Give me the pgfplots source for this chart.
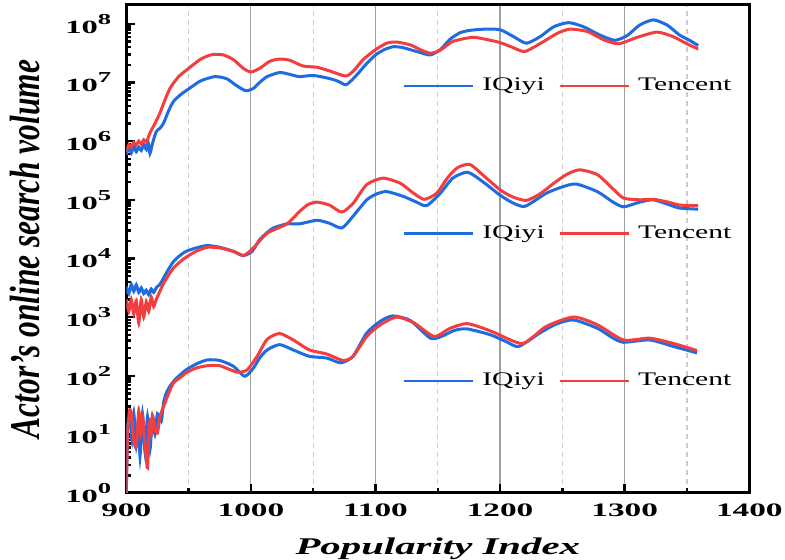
\documentclass[border=0pt]{standalone}
\usepackage{fontspec}
\setmainfont{Liberation Serif}
\newfontfamily\tickfont{Liberation Serif}[FakeStretch=1.75]
\newfontfamily\labfont{Liberation Serif}[FakeStretch=1.7]
\newfontfamily\legfont{Liberation Serif}[FakeStretch=1.54]
\usepackage{graphicx}
\usepackage{pgfplots}
\pgfplotsset{compat=1.18}
\definecolor{qyblue}{RGB}{31,108,224}
\definecolor{txred}{RGB}{242,62,62}

\begin{document}
\begin{tikzpicture}
\useasboundingbox (-63.15pt,-33.35pt) rectangle (329.35pt,246.5pt);

% top group
\begin{axis}[
  width=311.5pt, height=244pt, scale only axis,
  at={(0,0)}, anchor=south west,
  xmin=900, xmax=1400, ymode=log, log basis y=10, ymin=1, ymax=2.1e8,
  xtick={900,1000,...,1400}, minor x tick num=1,
  xmajorgrids, xminorgrids,
  major grid style={gray!75, line width=0.6pt},
  minor grid style={gray!40, line width=0.6pt, dash pattern=on 2.5pt off 2pt},
  tick align=inside, tick pos=left,
  major tick length=4.5pt, minor tick length=2.5pt,
  tick style={black, line width=1.2pt},
  axis line style={line width=1.5pt},
  xticklabel style={font=\fontsize{9.5}{10}\tickfont\bfseries, yshift=-2pt},
  yticklabel style={font=\fontsize{9.3}{10}\tickfont\bfseries, xshift=-4pt},
  xticklabel={\pgfmathprintnumber[assume math mode=true,1000 sep={}]{\tick}},
  yticklabel={10\raisebox{4.6pt}{\fontsize{7.6}{8}\selectfont\pgfmathparse{int(round(\tick))}\pgfmathresult}},
  xlabel={Popularity Index},
  xlabel style={font=\fontsize{12}{14}\labfont\bfseries\itshape, at={(rel axis cs:0.5,-0.126)}, anchor=base},
  ylabel={\scalebox{1}[1.35]{Actor's online search volume}},
  ylabel style={font=\fontsize{15.7}{18}\selectfont\bfseries\itshape, at={(rel axis cs:-0.127,0.5)}, anchor=south},
  legend columns=2,
  legend image code/.code={\draw[#1,line width=1.2pt] (0pt,0pt) -- (34.5pt,0pt);},
  legend style={draw=none, fill=none, inner sep=0pt, outer sep=0pt, anchor=west,
    column sep=0pt, at={(rel axis cs:0.444,0.834)},
    nodes={inner sep=0pt, font=\fontsize{9.6}{11}\legfont},
    /tikz/every odd column/.append style={column sep=4pt},
    /tikz/every even column/.append style={column sep=7pt}},
]
\addplot[draw=qyblue, line width=1.5pt, smooth, tension=0.4] coordinates {
(900,5.89e5) (902,7.94e5) (904,6.31e5) (906,8.32e5) (908,6.61e5) (910,7.94e5)
(912,6.92e5) (914,8.71e5) (916,7.24e5) (917.5,9.55e5) (919,6.17e5) (921,9.12e5)
(924,1.45e6) (927,1.66e6) (930,2.04e6) (934,3.31e6) (938,4.79e6) (944,6.31e6)
(950,7.76e6) (959,1.05e7) (965,1.17e7) (971,1.26e7) (976,1.23e7) (981,1.15e7)
(989,8.71e6) (996,7.24e6) (1002,7.94e6) (1007,1.0e7) (1013,1.26e7) (1023,1.48e7)
(1031,1.38e7) (1039,1.26e7) (1050,1.32e7) (1063,1.17e7) (1070,1.05e7) (1076,9.12e6)
(1080,1.05e7) (1085,1.35e7) (1092,2.0e7) (1100,2.95e7) (1107,3.63e7) (1114,4.07e7)
(1121,3.98e7) (1128,3.63e7) (1136,3.24e7) (1144,2.95e7) (1152,3.63e7) (1160,5.50e7)
(1168,7.08e7) (1176,7.76e7) (1188,8.13e7) (1200,7.94e7) (1211,6.03e7) (1221,4.68e7)
(1232,6.03e7) (1243,8.91e7) (1255,1.05e8) (1267,8.91e7) (1280,6.46e7) (1292,5.25e7)
(1302,6.31e7) (1312,9.55e7) (1323,1.17e8) (1334,9.55e7) (1344,6.46e7) (1352,5.25e7)
(1359,4.27e7)
};
\addlegendentry{IQiyi}
\addplot[draw=txred, line width=1.5pt, smooth, tension=0.4] coordinates {
(900,6.61e5) (902,8.71e5) (904,7.94e5) (906,9.55e5) (908,8.71e5) (910,1.0e6)
(912,8.91e5) (914,1.05e6) (916,9.55e5) (919,1.38e6) (923,2.0e6) (927,3.02e6)
(931,5.01e6) (935,7.94e6) (942,1.26e7) (950,1.74e7) (959,2.45e7) (965,2.82e7)
(970,3.02e7) (978,2.95e7) (986,2.45e7) (994,1.74e7) (1000,1.51e7) (1007,1.74e7)
(1015,2.29e7) (1023,2.51e7) (1031,2.40e7) (1042,1.91e7) (1053,1.82e7) (1063,1.58e7)
(1076,1.29e7) (1082,1.55e7) (1090,2.45e7) (1100,3.63e7) (1109,4.68e7) (1117,4.90e7)
(1128,4.37e7) (1136,3.63e7) (1144,3.16e7) (1152,3.55e7) (1162,5.01e7) (1178,5.89e7)
(1190,5.37e7) (1200,4.79e7) (1210,3.98e7) (1220,3.39e7) (1235,5.01e7) (1246,6.92e7)
(1256,8.13e7) (1270,7.41e7) (1283,5.37e7) (1295,4.57e7) (1310,5.89e7) (1326,7.24e7)
(1339,6.03e7) (1350,4.57e7) (1359,3.72e7)
};
\addlegendentry{Tencent}
\end{axis}

% middle group
\begin{axis}[
  width=311.5pt, height=244pt, scale only axis, hide axis,
  at={(0,0)}, anchor=south west,
  xmin=900, xmax=1400, ymode=log, ymin=1, ymax=2.1e8,
  legend columns=2,
  legend image code/.code={\draw[#1,line width=1.2pt] (0pt,0pt) -- (34.5pt,0pt);},
  legend style={draw=none, fill=none, inner sep=0pt, outer sep=0pt, anchor=west,
    column sep=0pt, at={(rel axis cs:0.444,0.532)},
    nodes={inner sep=0pt, font=\fontsize{9.6}{11}\legfont},
    /tikz/every odd column/.append style={column sep=4pt},
    /tikz/every even column/.append style={column sep=7pt}},
]
\addplot[draw=qyblue, line width=1.5pt, smooth, tension=0.4] coordinates {
(900,3.31e3) (902,2.51e3) (904,3.63e3) (906,2.75e3) (908,3.55e3) (910,2.63e3)
(912,3.16e3) (914,2.51e3) (916,2.88e3) (918,2.40e3) (920,3.02e3) (922,2.63e3)
(924,3.16e3) (927,3.63e3) (930,4.68e3) (934,6.61e3) (938,8.91e3) (943,1.12e4)
(948,1.32e4) (956,1.51e4) (965,1.66e4) (975,1.55e4) (986,1.32e4) (994,1.12e4)
(1001,1.32e4) (1007,2.09e4) (1013,2.75e4) (1018,3.31e4) (1029,3.89e4) (1039,3.89e4)
(1053,4.47e4) (1063,3.98e4) (1073,3.31e4) (1082,5.25e4) (1093,1.0e5) (1101,1.26e5)
(1109,1.38e5) (1122,1.15e5) (1133,9.12e4) (1141,7.94e4) (1152,1.29e5) (1162,2.34e5)
(1174,2.95e5) (1186,2.04e5) (1200,1.20e5) (1210,8.91e4) (1220,7.76e4) (1237,1.29e5)
(1250,1.66e5) (1261,1.86e5) (1278,1.38e5) (1290,9.33e4) (1299,7.59e4) (1312,9.12e4)
(1323,1.0e5) (1335,8.32e4) (1344,7.24e4) (1359,6.92e4)
};
\addlegendentry{IQiyi}
\addplot[draw=txred, line width=1.5pt, smooth, tension=0.4] coordinates {
(900,2.0e3) (902,1.26e3) (904,2.0e3) (906,1.12e3) (908,1.91e3) (910,7.94e2)
(912,2.0e3) (914,1.0e3) (916,1.82e3) (918,1.26e3) (920,2.19e3) (922,1.51e3)
(924,2.0e3) (927,2.75e3) (930,3.80e3) (934,5.25e3) (938,6.92e3) (943,8.71e3)
(948,1.05e4) (956,1.32e4) (965,1.55e4) (975,1.51e4) (986,1.32e4) (994,1.12e4)
(1002,1.51e4) (1013,2.69e4) (1029,3.89e4) (1039,6.31e4) (1046,8.32e4) (1053,9.12e4)
(1063,8.13e4) (1073,6.17e4) (1082,8.71e4) (1093,1.82e5) (1106,2.34e5) (1120,1.91e5)
(1130,1.32e5) (1139,1.02e5) (1149,1.29e5) (1158,2.40e5) (1166,3.55e5) (1176,3.98e5)
(1189,2.34e5) (1200,1.48e5) (1210,1.12e5) (1221,9.77e4) (1232,1.26e5) (1243,1.91e5)
(1254,2.75e5) (1264,3.24e5) (1278,2.69e5) (1290,1.58e5) (1299,1.07e5) (1312,1.0e5)
(1323,1.02e5) (1335,9.12e4) (1344,8.13e4) (1359,7.94e4)
};
\addlegendentry{Tencent}
\end{axis}

% bottom group
\begin{axis}[
  width=311.5pt, height=244pt, scale only axis, hide axis,
  at={(0,0)}, anchor=south west,
  xmin=900, xmax=1400, ymode=log, ymin=1, ymax=2.1e8,
  legend columns=2,
  legend image code/.code={\draw[#1,line width=1.2pt] (0pt,0pt) -- (34.5pt,0pt);},
  legend style={draw=none, fill=none, inner sep=0pt, outer sep=0pt, anchor=west,
    column sep=0pt, at={(rel axis cs:0.444,0.230)},
    nodes={inner sep=0pt, font=\fontsize{9.6}{11}\legfont},
    /tikz/every odd column/.append style={column sep=4pt},
    /tikz/every even column/.append style={column sep=7pt}},
]
\addplot[draw=qyblue, line width=1.5pt, smooth, tension=0.4] coordinates {
(900,1) (901,12.6) (903,20) (904.5,7.9) (906,22.9) (908,6.3) (910,20) (911,4.2)
(913,22.4) (915,5.0) (917,20) (919,5.5) (921,20.9) (923,10) (925,22.4) (928,16.6)
(930,35.5) (932,50.1) (935,66) (939,85.1) (944,107) (948,126) (956,158) (965,186)
(975,182) (986,145) (995,97.7) (1002,135) (1007,200) (1013,275) (1023,339) (1034,275)
(1047,214) (1061,200) (1072,166) (1082,214) (1093,537) (1104,851) (1114,1047) (1128,871)
(1144,437) (1153,468) (1163,589) (1173,631) (1192,501) (1205,380) (1215,316) (1232,537)
(1245,759) (1259,891) (1278,646) (1290,447) (1299,372) (1320,407) (1339,316) (1358,245)
};
\addlegendentry{IQiyi}
\addplot[draw=txred, line width=1.5pt, smooth, tension=0.4] coordinates {
(900,1) (901,9.1) (902.5,25.1) (904,22.9) (906,7.9) (908,6.2) (910,25) (911.5,10)
(913,20.4) (915,7.1) (917,2.7) (918.5,15.8) (920,10) (921,20.4) (923,12.6) (925,10.5)
(927,20) (930,30.2) (934,50.1) (938,75.9) (944,95.5) (948,112) (956,135) (965,148)
(975,148) (989,115) (997,126) (1005,214) (1013,417) (1023,525) (1034,407) (1047,275)
(1061,234) (1074,182) (1082,214) (1093,468) (1104,741) (1117,1000) (1131,794) (1147,468)
(1160,646) (1173,776) (1185,661) (1195,550) (1218,355) (1237,692) (1259,1000) (1278,741)
(1299,407) (1320,437) (1339,355) (1358,269)
};
\addlegendentry{Tencent}
\end{axis}
\end{tikzpicture}
\end{document}
